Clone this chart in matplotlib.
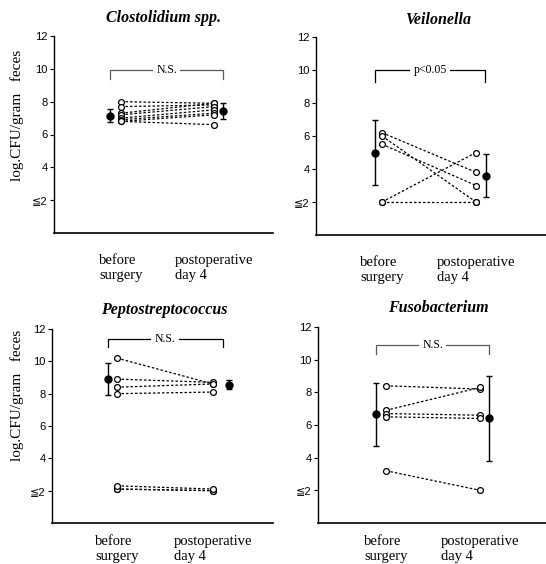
import matplotlib
matplotlib.use('Agg')
import matplotlib.pyplot as plt

serif = 'Liberation Serif'
sans = ['Liberation Sans', 'DejaVu Sans', 'Noto Sans CJK JP']

# data: log CFU / gram feces, individual patients (before -> postoperative day 4)
titles = ['Clostolidium spp.', 'Veilonella', 'Peptostreptococcus', 'Fusobacterium']
stat_labels = ['N.S.', 'p<0.05', 'N.S.', 'N.S.']
xlabels = ['before\nsurgery', 'postoperative\nday 4']

clos_before = [8.0, 7.7, 7.3, 7.2, 7.0, 6.9, 6.8, 6.8]
clos_after = [7.9, 7.8, 7.9, 7.7, 7.5, 7.3, 7.2, 6.6]
clos_mean = [7.15, 7.45]
clos_sd = [0.4, 0.48]

veil_before = [6.2, 6.0, 5.5, 2.0, 2.0]
veil_after = [3.8, 2.0, 3.0, 5.0, 2.0]
veil_mean = [5.0, 3.6]
veil_sd = [1.95, 1.3]

pept_before = [10.2, 8.9, 8.4, 8.0, 2.1, 2.1, 2.3]
pept_after = [8.6, 8.7, 8.6, 8.1, 2.0, 2.0, 2.1]
pept_mean = [8.9, 8.55]
pept_sd = [0.98, 0.28]

fuso_before = [8.4, 6.9, 6.7, 6.5, 3.2]
fuso_after = [8.2, 8.3, 6.6, 6.4, 2.0]
fuso_mean = [6.65, 6.4]
fuso_sd = [1.95, 2.6]

yticks = [2, 4, 6, 8, 10, 12]
ytick_labels = ['≦2', '4', '6', '8', '10', '12']

panels = [
    (clos_before, clos_after, clos_mean, clos_sd),
    (veil_before, veil_after, veil_mean, veil_sd),
    (pept_before, pept_after, pept_mean, pept_sd),
    (fuso_before, fuso_after, fuso_mean, fuso_sd),
]

# layout (figure fractions) and per-panel x-limits
boxes = [
    [54/546, 1-233/564, 219/546, 197/564],
    [316/546, 1-235/564, 230/546, 198/564],
    [52/546, 1-523/564, 221/546, 194/564],
    [318/546, 1-523/564, 228/546, 196/564],
]
xlims = [(0.28, 2.634), (0.298, 2.745), (0.323, 2.625), (0.277, 2.70)]
mean_off = [(-0.12, 0.1), (-0.075, 0.106), (-0.094, 0.17), (-0.106, 0.096)]
bracket = [(9.9, 9.4, 'dot'), (10.0, 9.3, 'solid'), (11.4, 10.9, 'solid'), (10.9, 10.35, 'dot')]
title_y = [18, 20, 310, 308]
xpad = [15, 15, 8.5, 8.5]

fig = plt.figure(figsize=(5.46, 5.64), dpi=100)

for i, (before, after, mean, sd) in enumerate(panels):
    ax = fig.add_axes(boxes[i])
    for b, a in zip(before, after):
        ax.plot([1, 2], [b, a], color='black', lw=0.9, ls=(0, (2, 1.6)),
                marker='o', ms=4.2, mfc='white', mec='black', mew=0.9, zorder=3)
    xm = [1 + mean_off[i][0], 2 + mean_off[i][1]]
    ax.errorbar(xm, mean, yerr=sd, fmt='o', color='black', ms=5, capsize=2.5,
                elinewidth=1.0, capthick=1.0, zorder=4)

    # significance bracket
    y1, y0, style = bracket[i]
    col = '0.35' if style == 'dot' else 'black'
    x0, x1 = 1 + mean_off[i][0], 2 + min(mean_off[i][1], 0.1)
    ax.plot([x0, x0, x1, x1], [y0, y1, y1, y0], color=col, lw=0.9, solid_joinstyle='miter')
    ax.text((x0 + x1) / 2, y1, stat_labels[i], ha='center', va='center',
            fontsize=8.5, family=serif,
            bbox=dict(facecolor='white', edgecolor='none', pad=2.5))

    ax.set_xlim(*xlims[i])
    ax.set_ylim(0, 12)
    ax.set_yticks(yticks)
    ax.set_yticklabels(ytick_labels, fontsize=8, family=sans)
    ax.tick_params(axis='y', length=3, width=0.8, pad=1.5)
    ax.set_xticks([1, 2])
    ax.set_xticklabels(xlabels, fontsize=10.5, family=serif, multialignment='left',
                       linespacing=1.25)
    ax.tick_params(axis='x', length=0, pad=xpad[i])
    for s in ['top', 'right']:
        ax.spines[s].set_visible(False)
    ax.spines['left'].set_linewidth(1.0)
    ax.spines['bottom'].set_linewidth(1.2)

    fig.text(164/546 if i % 2 == 0 else 438/546, 1 - title_y[i]/564, titles[i],
             ha='center', va='center', fontsize=11.5, family=serif,
             fontweight='bold', fontstyle='italic')

# y axis labels (left panels only)
fig.text(17/546, 1 - 115/564, 'log.CFU/gram   feces', rotation=90, ha='center',
         va='center', fontsize=11, family=serif)
fig.text(17/546, 1 - 395/564, 'log.CFU/gram   feces', rotation=90, ha='center',
         va='center', fontsize=11, family=serif)

fig.savefig('out.png', dpi=100)
